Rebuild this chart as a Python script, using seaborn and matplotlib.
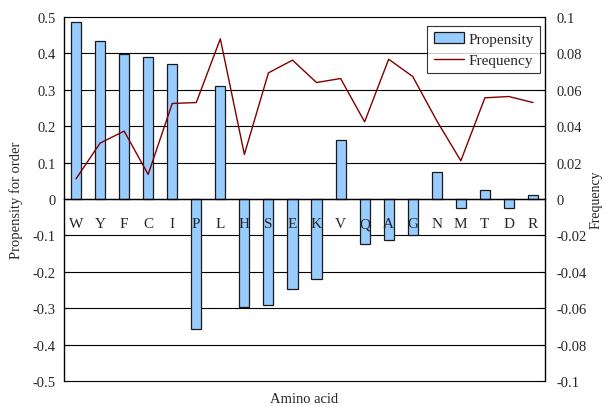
import numpy as np
import pandas as pd
import matplotlib
matplotlib.use('Agg')
from matplotlib import pyplot as plt
import seaborn as sns

amino = ['W', 'Y', 'F', 'C', 'I', 'P', 'L', 'H', 'S', 'E',
         'K', 'V', 'Q', 'A', 'G', 'N', 'M', 'T', 'D', 'R']
propensity = [0.485, 0.435, 0.397, 0.391, 0.371, -0.356, 0.310, -0.296, -0.291, -0.246,
              -0.221, 0.162, -0.123, -0.114, -0.098, 0.075, -0.026, 0.024, -0.024, 0.012]
frequency = [0.0111, 0.0307, 0.0373, 0.0135, 0.0525, 0.0530, 0.0880, 0.0245, 0.0693, 0.0763,
             0.0640, 0.0662, 0.0424, 0.0768, 0.0673, 0.0430, 0.0210, 0.0556, 0.0563, 0.0530]

left_ticks = [0.5, 0.4, 0.3, 0.2, 0.1, 0, -0.1, -0.2, -0.3, -0.4, -0.5]
right_ticks = [0.1, 0.08, 0.06, 0.04, 0.02, 0, -0.02, -0.04, -0.06, -0.08, -0.1]

sns.set_style('white')
plt.rcParams['font.family'] = ['Liberation Serif', 'DejaVu Serif']
plt.rcParams['font.size'] = 10.5

df = pd.DataFrame({'aa': amino, 'prop': propensity, 'freq': frequency})

fig = plt.figure(figsize=(6.05, 4.06), dpi=100)
ax = fig.add_axes([64/605, 24/406, 481/605, 364/406])

sns.barplot(data=df, x='aa', y='prop', color='#99ccff', saturation=1,
            edgecolor='#1a1a1a', linewidth=0.9, width=0.42, ax=ax,
            label='Propensity', zorder=1.5)
if ax.get_legend() is not None:
    ax.get_legend().remove()

ax.set_xlim(-0.5, 19.5)
ax.set_ylim(-0.5, 0.5)
ax.set_yticks(left_ticks)
ax.set_yticklabels([f'{v:g}' for v in left_ticks])
ax.yaxis.grid(True, color='black', lw=0.8)
for gl in ax.get_ygridlines():
    gl.set_clip_on(False)
ax.set_axisbelow(True)
# category letters sit on top of the bars, like the original
ax.xaxis.set_zorder(3)
ax.spines['top'].set_visible(False)
ax.spines['right'].set_visible(False)
ax.spines['bottom'].set_position(('data', 0))
ax.spines['bottom'].set_color('black')
ax.spines['left'].set_color('black')
ax.spines['bottom'].set_linewidth(1.0)
ax.spines['left'].set_linewidth(1.0)
ax.tick_params(axis='x', which='major', length=0, pad=13, labelsize=11)
ax.set_xticks(np.arange(-0.5, 19.6, 1), minor=True)
ax.tick_params(axis='x', which='minor', direction='in', length=3, width=0.8, color='black')
ax.tick_params(axis='y', direction='in', length=4, width=0.8, color='black', left=True, pad=6)
ax.set_xlabel('Amino acid', fontsize=10.5)
ax.xaxis.set_label_coords(0.5, -0.03)
ax.set_ylabel('Propensity for order', fontsize=10.5, labelpad=7)

ax2 = ax.twinx()
sns.lineplot(data=df, x='aa', y='freq', color='#800000', lw=1.0, sort=False,
             ax=ax2, label='Frequency')
ax2.set_ylim(-0.1, 0.1)
ax2.set_yticks(right_ticks)
ax2.set_yticklabels([f'{v:g}' for v in right_ticks])
for s in ['top', 'left', 'bottom']:
    ax2.spines[s].set_visible(False)
ax2.spines['right'].set_color('black')
ax2.spines['right'].set_linewidth(1.0)
ax2.tick_params(axis='y', direction='in', length=4, width=0.8, color='black', right=True, pad=8)
ax2.set_ylabel('Frequency', fontsize=10, labelpad=2)

h1, l1 = ax.get_legend_handles_labels()
h2, l2 = ax2.get_legend_handles_labels()
leg = ax2.legend(h1 + h2, l1 + l2, loc='upper right', bbox_to_anchor=(0.99, 0.975),
                 borderaxespad=0, frameon=True, fancybox=False, edgecolor='black',
                 fontsize=11, handlelength=2.0, handletextpad=0.3, labelspacing=0.5,
                 borderpad=0.4)
leg.get_frame().set_linewidth(0.8)

fig.savefig('out.png', dpi=100)
